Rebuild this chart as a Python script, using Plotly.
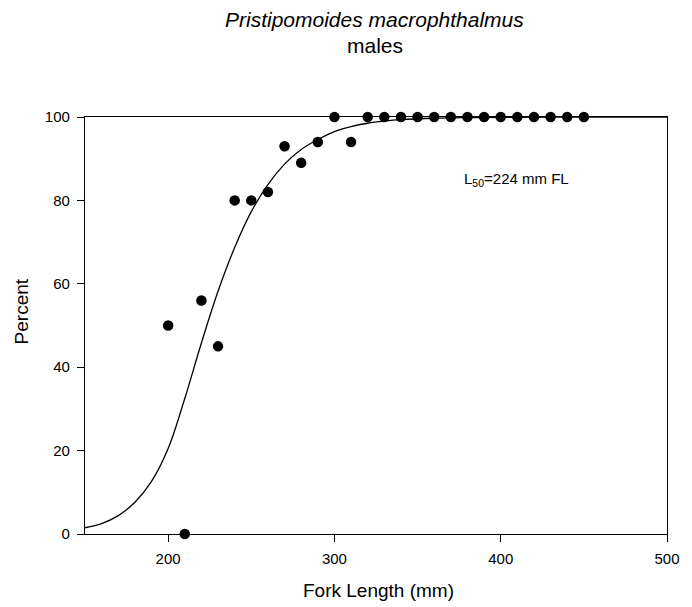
import plotly.graph_objects as go

# Observed maturity data (fork length, percent mature)
fork_length = [200, 210, 220, 230, 240, 250, 260, 270, 280, 290, 300, 310,
               320, 330, 340, 350, 360, 370, 380, 390, 400, 410, 420, 430, 440, 450]
percent_mature = [50, 0, 56, 45, 80, 80, 82, 93, 89, 94, 100, 94,
                  100, 100, 100, 100, 100, 100, 100, 100, 100, 100, 100, 100, 100, 100]

# Fitted curve
curve_x = [150, 160, 170, 180, 190, 200, 210, 220, 230, 240, 250, 260, 270, 280,
           290, 300, 310, 320, 330, 340, 360, 380, 400, 450, 500]
curve_y = [1.5, 2.5, 4.4, 7.6, 12.6, 20.5, 32.5, 45.8, 58.2, 68.7, 77.3, 83.8, 88.7, 92.2,
           94.6, 96.5, 97.7, 98.5, 99.0, 99.35, 99.7, 99.85, 99.93, 99.98, 100]

x_ticks = [200, 300, 400, 500]
y_ticks = [0, 20, 40, 60, 80, 100]

FONT = "Liberation Sans, Arial, Helvetica, sans-serif"

fig = go.Figure()
fig.add_trace(go.Scatter(x=curve_x, y=curve_y, mode="lines", line_shape="spline",
                         line=dict(color="black", width=1.3), cliponaxis=False,
                         showlegend=False, hoverinfo="skip"))
fig.add_trace(go.Scatter(x=fork_length, y=percent_mature, mode="markers",
                         marker=dict(color="black", size=10.5, line=dict(width=0)),
                         cliponaxis=False, showlegend=False))

L, R, T, B = 84.5, 17, 117, 73
H = 607 - T - B
W = 692 - L - R

def py(p):
    return (607 - B - p) / H

def px(p):
    return (p - L) / W

fig.update_layout(
    width=692, height=607,
    margin=dict(l=L, r=R, t=T, b=B),
    paper_bgcolor="white", plot_bgcolor="white",
    font=dict(family=FONT, color="black", size=15),
    xaxis=dict(range=[150, 500], tickvals=x_ticks, ticks="outside", ticklen=7,
               tickwidth=1, tickcolor="black", showline=True, linecolor="black",
               linewidth=1.2, mirror=True, showgrid=False, zeroline=False,
               ticklabelstandoff=4,
               tickfont=dict(size=15, family=FONT)),
    yaxis=dict(range=[0, 100], tickvals=y_ticks, ticks="outside", ticklen=7,
               tickwidth=1, tickcolor="black", showline=True, linecolor="black",
               linewidth=1.2, mirror=True, showgrid=False, zeroline=False,
               ticklabelstandoff=4,
               tickfont=dict(size=15, family=FONT)),
    annotations=[
        dict(text="<i>Pristipomoides macrophthalmus</i>", xref="paper", yref="paper",
             x=px(378.5), y=py(20), xanchor="center", yanchor="middle",
             showarrow=False, font=dict(size=21, family=FONT)),
        dict(text="males", xref="paper", yref="paper",
             x=px(378.5), y=py(46), xanchor="center", yanchor="middle",
             showarrow=False, font=dict(size=21, family=FONT)),
        dict(text="Fork Length (mm)", xref="paper", yref="paper",
             x=px(382), y=py(590), xanchor="center", yanchor="middle",
             showarrow=False, font=dict(size=19, family=FONT)),
        dict(text="Percent", xref="paper", yref="paper", textangle=-90,
             x=px(20), y=py(311), xanchor="center", yanchor="middle",
             showarrow=False, font=dict(size=19, family=FONT)),
        dict(text="L<sub>50</sub>=224 mm FL", xref="paper", yref="paper",
             x=px(522), y=py(179), xanchor="center", yanchor="middle",
             showarrow=False, font=dict(size=15, family=FONT)),
    ],
)

fig.write_html("out.html")
